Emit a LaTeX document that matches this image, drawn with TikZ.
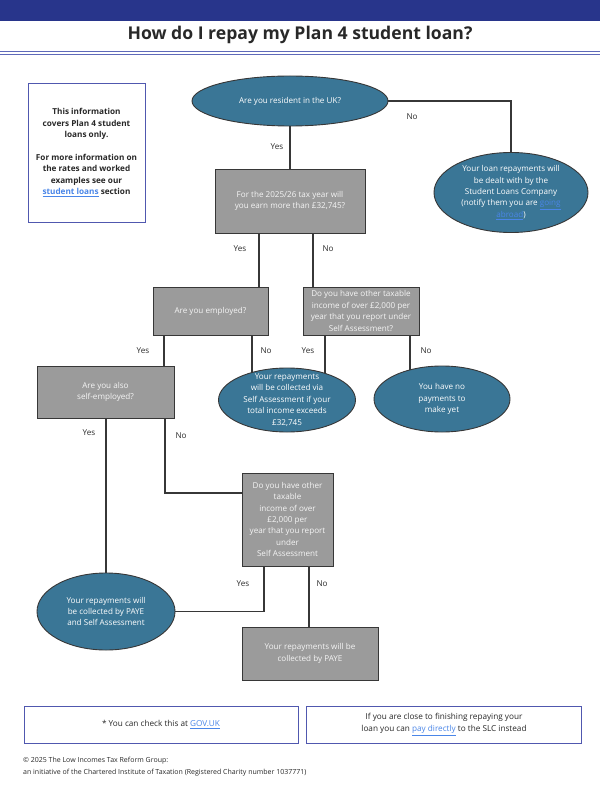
\documentclass[tikz,border=0pt]{standalone}
\usepackage{fontspec}
\setmainfont{Open Sans}
\usetikzlibrary{shapes.geometric,backgrounds}
\definecolor{hdrblue}{RGB}{40,53,139}
\definecolor{rulblue}{RGB}{95,105,185}
\definecolor{boxblue}{RGB}{80,88,175}
\definecolor{ellfill}{RGB}{58,118,150}
\definecolor{boxfill}{RGB}{155,155,155}
\definecolor{edgec}{RGB}{55,55,55}
\definecolor{lnkc}{RGB}{74,134,232}
\definecolor{txtc}{RGB}{40,40,40}
\definecolor{ltxt}{RGB}{245,245,245}
\newcommand\lnk[1]{\textcolor{lnkc}{\underline{#1}}}
\begin{document}
\begin{tikzpicture}[x=1pt,y=-1pt,
  body/.style={font=\fontsize{8.1}{11.4}\selectfont},
  ellshape/.style={ellipse, draw=edgec, line width=0.9pt, fill=ellfill, inner sep=0pt},
  elltext/.style={body, text=white, align=center, inner sep=0pt},
  qbox/.style={rectangle, draw=edgec, line width=0.9pt, fill=boxfill, body, text=ltxt, align=center, inner sep=0pt},
  infobox/.style={rectangle, draw=boxblue, line width=0.9pt, fill=white, inner sep=0pt, align=center, text=txtc},
  conn/.style={draw=edgec, line width=1.1pt},
  lbl/.style={body, text=txtc, inner sep=0pt},
]
\useasboundingbox (0,0) rectangle (600,794);
% header
\fill[hdrblue] (0,0) rectangle (600,21);
\node[anchor=base, text=txtc, font=\fontsize{17.6}{20}\selectfont\bfseries] (title) at (300,39.5) {How do I repay my Plan 4 student loan?};
\draw[rulblue, line width=0.7pt] (0,51) -- (600,51);
\draw[rulblue, line width=0.9pt] (0,54) -- (600,54);

% info box
\node[infobox, minimum width=117pt, minimum height=139pt, font=\fontsize{8.2}{11.43}\selectfont\bfseries] (info) at (86.5,152.5)
  {This information\\covers Plan 4 student\\loans only.\\[11.43pt]For more information on\\the rates and worked\\examples see our\\\lnk{student loans} section};

% coordinates for connector x positions
\coordinate (c259) at (259,0);
\coordinate (c313) at (313,0);
\coordinate (c164) at (164,0);
\coordinate (c252) at (252,0);
\coordinate (c325) at (325,0);
\coordinate (c410) at (410,0);
\coordinate (c106) at (106,0);
\coordinate (c165) at (165,0);
\coordinate (c264) at (264,0);
\coordinate (c309) at (309,0);
\coordinate (c493) at (0,493);

% ellipses
\node[ellshape, minimum width=196pt, minimum height=50pt] (e1) at (290,101) {};
\node[elltext] (e1t) at (e1.center) {Are you resident in the UK?};
\node[ellshape, minimum width=154pt, minimum height=80pt] (e2) at (511,192.5) {};
\node[elltext] (e2t) at (e2.center) {Your loan repayments will\\be dealt with by the\\Student Loans Company\\(notify them you are \lnk{going}\\\lnk{abroad})};
\node[ellshape, minimum width=137pt, minimum height=64pt] (e3) at (287,400) {};
\node[elltext] (e3t) at (e3.center) {Your repayments\\will be collected via\\Self Assessment if your\\total income exceeds\\£32,745};
\node[ellshape, minimum width=136pt, minimum height=66pt] (e4) at (442,399) {};
\node[elltext] (e4t) at (e4.center) {You have no\\payments to\\make yet};
\node[ellshape, minimum width=138pt, minimum height=77pt] (e5) at (106,611.5) {};
\node[elltext] (e5t) at (e5.center) {Your repayments will\\be collected by PAYE\\and Self Assessment};

% boxes
\node[qbox, minimum width=150pt, minimum height=64pt] (b2) at (290,201) {For the 2025/26 tax year will\\you earn more than £32,745?};
\node[qbox, minimum width=115pt, minimum height=48pt] (emp) at (210.5,311) {Are you employed?};
\node[qbox, minimum width=116pt, minimum height=48pt] (oth) at (361,311) {Do you have other taxable\\income of over £2,000 per\\year that you report under\\Self Assessment?};
\node[qbox, minimum width=137pt, minimum height=52pt] (self) at (105.5,392) {Are you also\\self-employed?};
\node[qbox, minimum width=91pt, minimum height=93pt] (oth2) at (287.5,519.5) {Do you have other\\taxable\\income of over\\£2,000 per\\year that you report\\under\\Self Assessment};
\node[qbox, minimum width=136pt, minimum height=53pt] (paye) at (310,653.5) {Your repayments will be\\collected by PAYE};

% connectors
\begin{scope}[on background layer]
\draw[conn] (e1.south) -- (b2.north);
\draw[conn] (e1.east) -| (e2.center);
\draw[conn] (b2.south -| c259) -- (emp.north -| c259);
\draw[conn] (b2.south -| c313) -- (oth.north -| c313);
\draw[conn] (emp.south -| c164) -- (self.north -| c164);
\draw[conn] (emp.south -| c252) -- (e3.center -| c252);
\draw[conn] (oth.south -| c325) -- (e3.center -| c325);
\draw[conn] (oth.south -| c410) -- (e4.center -| c410);
\draw[conn] (self.south -| c106) -- (e5.center -| c106);
\draw[conn] (self.south -| c165) |- (oth2.west |- c493);
\draw[conn] (oth2.south -| c264) |- (e5.center);
\draw[conn] (oth2.south -| c309) -- (paye.north -| c309);
\end{scope}

% labels
\node[lbl] (l1) at (412,117) {No};
\node[lbl] (l2) at (277,147) {Yes};
\node[lbl] (l3) at (240,249) {Yes};
\node[lbl] (l4) at (328,249) {No};
\node[lbl] (l5) at (143,351) {Yes};
\node[lbl] (l6) at (266,351) {No};
\node[lbl] (l7) at (308,351) {Yes};
\node[lbl] (l8) at (426,351) {No};
\node[lbl] (l9) at (89,433) {Yes};
\node[lbl] (l10) at (181,436) {No};
\node[lbl] (l11) at (243,584) {Yes};
\node[lbl] (l12) at (322,584) {No};

% footer
\node[infobox, minimum width=274pt, minimum height=37pt, font=\fontsize{8.2}{11.7}\selectfont] (f1) at (161,724.5) {* You can check this at \lnk{GOV.UK}};
\node[infobox, minimum width=275pt, minimum height=37pt, font=\fontsize{8.2}{11.7}\selectfont] (f2) at (444,724.5) {If you are close to finishing repaying your\\loan you can \lnk{pay directly} to the SLC instead};
\node[anchor=north west, inner sep=0pt, align=left, text=txtc, font=\fontsize{7}{11.5}\selectfont] (copy) at (23,757) {© 2025 The Low Incomes Tax Reform Group:\\an initiative of the Chartered Institute of Taxation (Registered Charity number 1037771)};
\end{tikzpicture}
\end{document}
